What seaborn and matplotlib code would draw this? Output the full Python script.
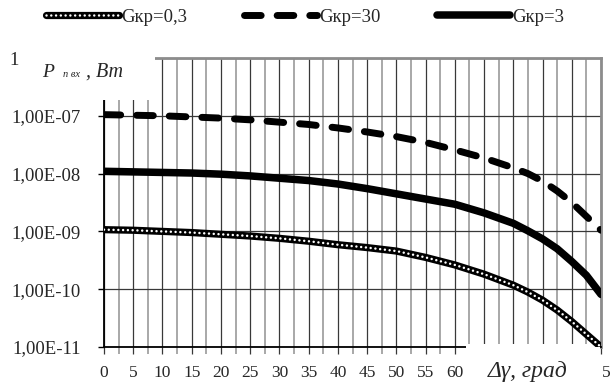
import numpy as np
import pandas as pd
import matplotlib
matplotlib.use("Agg")
import matplotlib.pyplot as plt
import seaborn as sns
from matplotlib.lines import Line2D
from matplotlib.patches import Rectangle
from matplotlib.legend_handler import HandlerTuple
from matplotlib.ticker import MultipleLocator, FixedLocator

# angle, degrees
angle = [0, 5, 10, 15, 20, 25, 30, 35, 40, 45, 50, 55, 60, 65, 70, 72.5, 75, 77.5, 80, 82.5, 85]

# log10 of power
log_g30 = [-6.98, -6.99, -7.00, -7.02, -7.04, -7.07, -7.11, -7.15, -7.21, -7.28, -7.36,
           -7.46, -7.59, -7.73, -7.90, -8.00, -8.13, -8.30, -8.50, -8.74, -8.98]
log_g3 = [-7.96, -7.97, -7.98, -7.99, -8.01, -8.04, -8.08, -8.12, -8.18, -8.26, -8.35,
          -8.44, -8.53, -8.68, -8.86, -8.99, -9.13, -9.30, -9.52, -9.76, -10.09]
log_g03 = [-8.97, -8.98, -9.00, -9.02, -9.05, -9.08, -9.12, -9.17, -9.23, -9.28, -9.34,
           -9.45, -9.58, -9.74, -9.93, -10.05, -10.19, -10.36, -10.56, -10.78, -11.0]

ytick_vals = [1e-11, 1e-10, 1e-9, 1e-8, 1e-7, 1e-6]
# top label is hidden behind the axis title, only its "1" shows
ytick_labels = ["1,00E-11", "1,00E-10", "1,00E-09", "1,00E-08", "1,00E-07", ""]
xtick_vals = list(range(0, 90, 5))
# 65..85 are hidden behind the axis title, only the "5" of 85 shows
xtick_labels = [str(v) if v <= 60 else "" for v in xtick_vals]
legend_labels = ["Gкр=0,3", "Gкр=30", "Gкр=3"]

df = pd.DataFrame({"angle": angle,
                   "g30": 10 ** np.array(log_g30),
                   "g3": 10 ** np.array(log_g3),
                   "g03": 10 ** np.array(log_g03)})

sns.set_style("white")
plt.rcParams['font.family'] = ['Liberation Serif', 'DejaVu Serif']

W, H = 611, 385
fig = plt.figure(figsize=(W / 100, H / 100), dpi=100)
ax = fig.add_axes([104 / W, 1 - 347 / H, (601 - 104) / W, (347 - 58) / H])

dots = (0, (0.01, 1.9))
dashes = (0, (2.4, 2.3))

# curves
sns.lineplot(data=df, x="angle", y="g03", ax=ax, color="black", lw=5.2, zorder=3)
sns.lineplot(data=df, x="angle", y="g03", ax=ax, color="white", lw=1.8, zorder=4,
             linestyle=dots, dash_capstyle="round")
sns.lineplot(data=df, x="angle", y="g30", ax=ax, color="black", lw=5, zorder=3,
             linestyle=dashes, dash_capstyle="round")
sns.lineplot(data=df, x="angle", y="g3", ax=ax, color="black", lw=5.4, zorder=3,
             solid_capstyle="round")

ax.set_yscale("log")
ax.set_xlim(0, 85)
ax.set_ylim(1e-11, 1e-6)
ax.yaxis.set_major_locator(FixedLocator(ytick_vals))
ax.yaxis.set_minor_locator(FixedLocator([]))
ax.set_yticklabels(ytick_labels)
ax.xaxis.set_major_locator(FixedLocator(xtick_vals))
ax.xaxis.set_minor_locator(MultipleLocator(2.5))
ax.set_xticklabels(xtick_labels)
ax.set_xlabel("")
ax.set_ylabel("")

ax.grid(True, which="major", axis="both", color="#383838", lw=0.9)
ax.grid(True, which="minor", axis="x", color="#a8a8a8", lw=1.4)
ax.tick_params(axis="y", which="major", direction="out", length=4.5, width=1,
               color="black", labelsize=13.5, pad=12, left=True)
ax.tick_params(axis="x", which="major", direction="out", length=5, width=0.9,
               color="#383838", labelsize=12.5, pad=8, bottom=True)
ax.tick_params(axis="x", which="minor", direction="out", length=5, width=1.4,
               color="#a8a8a8", bottom=True)

for s in ["left", "bottom"]:
    ax.spines[s].set_color("black")
    ax.spines[s].set_linewidth(1.3)
for s in ["top", "right"]:
    ax.spines[s].set_color("#8c8c8c")
    ax.spines[s].set_linewidth(2)

# white boxes behind the axis titles
ax.add_patch(Rectangle((22 / W, 1 - 100 / H), (155 - 22) / W, 60 / H,
                       transform=fig.transFigure, facecolor="white",
                       edgecolor="none", clip_on=False, zorder=2.8))
ax.add_patch(Rectangle((466 / W, 0), (600 - 466) / W, 1 - 344 / H,
                       transform=fig.transFigure, facecolor="white",
                       edgecolor="none", clip_on=False, zorder=2.8))

# visible remains of the covered tick labels
fig.text(9 / W, 1 - 65 / H, "1", fontsize=13.5, ha="left", va="baseline")
fig.text(602 / W, 1 - 377 / H, "5", fontsize=12.5, ha="left", va="baseline")

# y title: P (subscript п вх), Вт
fig.text(42 / W, 1 - 77 / H, "P", fontsize=14, style="italic", ha="left", va="baseline")
fig.text(63 / W, 1 - 77 / H, "п вх", fontsize=7.5, style="italic", ha="left", va="baseline")
fig.text(86 / W, 1 - 77 / H, ", Вт", fontsize=14.5, style="italic", ha="left", va="baseline")

# x title
fig.text(488 / W, 1 - 377 / H, "Δγ, град", fontsize=17, style="italic", ha="left", va="baseline")

# legend
h03 = (Line2D([], [], color="black", lw=5.2, solid_capstyle="round"),
       Line2D([], [], color="white", lw=1.8, linestyle=dots, dash_capstyle="round"))
h30 = Line2D([], [], color="black", lw=5, linestyle=dashes, dash_capstyle="round")
h3 = Line2D([], [], color="black", lw=5.4, solid_capstyle="round")
fig.legend([h03, h30, h3], legend_labels,
           handler_map={tuple: HandlerTuple(ndivide=1)},
           loc="center", bbox_to_anchor=(305 / W, 1 - 17 / H), ncol=3, frameon=False,
           fontsize=13.5, handlelength=3.9, handletextpad=0.12, columnspacing=3.0)

fig.savefig("out.png", dpi=100)
